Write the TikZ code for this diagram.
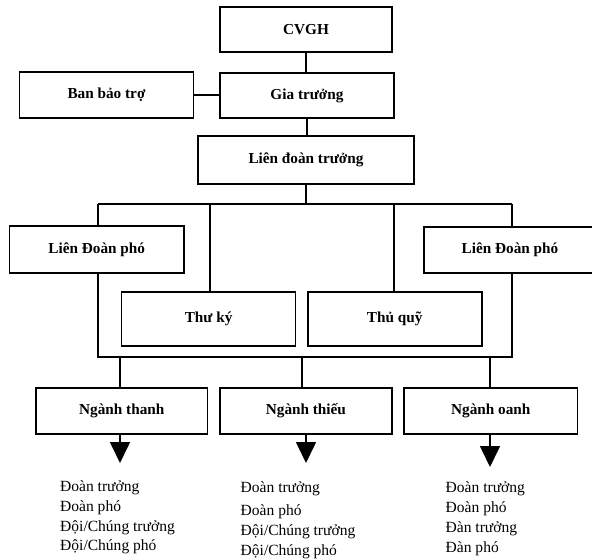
\documentclass[tikz,border=0pt]{standalone}
\usepackage{fontspec}
\setmainfont{Liberation Serif}
\usetikzlibrary{arrows.meta}
\tikzset{
  box/.style={draw, line width=1.6bp, fill=white, inner sep=0pt, font=\fontsize{15.3}{18}\selectfont\bfseries},
  link/.style={line width=1.6bp},
  downarrow/.style={line width=1.6bp, -{Triangle[length=21bp,width=20bp]}},
  item/.style={anchor=west, inner sep=0pt, text height=10bp, text depth=3bp, font=\fontsize{15.6}{18}\selectfont}
}
\begin{document}
\begin{tikzpicture}[x=1bp,y=-1bp]
\useasboundingbox (0,0) rectangle (592,559);
% bus coordinates
\coordinate (bTL) at (98,204);
\coordinate (bTR) at (512,204);
\coordinate (bBL) at (98,357);
\coordinate (bBR) at (512,357);
\coordinate (tk) at (210,204);
\coordinate (tq) at (394,204);
\coordinate (d1) at (120,357);
\coordinate (d2) at (302,357);
\coordinate (d3) at (490,357);
% frame lines behind the boxes
\draw[link] (bTL) -- (bTR);
\draw[link] (bTL) -- (bBL) -- (bBR) -- (bTR);
% boxes
\node[box, minimum width=172bp, minimum height=45bp] (cvgh) at (306,29.5) {CVGH};
\node[box, minimum width=174bp, minimum height=45bp] (gia) at (307,95.5) {Gia trưởng};
\node[box, minimum width=174bp, minimum height=46bp] (ban) at (106.5,95) {Ban bảo trợ};
\node[box, minimum width=216bp, minimum height=48bp] (ldt) at (306,160) {Liên đoàn trưởng};
\node[box, minimum width=174.6bp, minimum height=47bp] (ldpL) at (96.7,249.5) {Liên Đoàn phó};
\node[box, minimum width=172bp, minimum height=46bp] (ldpR) at (510,250) {Liên Đoàn phó};
\node[box, minimum width=174bp, minimum height=54bp] (thuky) at (208.6,319) {Thư ký};
\node[box, minimum width=174bp, minimum height=54bp] (thuquy) at (394.7,319) {Thủ quỹ};
\node[box, minimum width=171.6bp, minimum height=46bp] (thanh) at (121.8,411) {Ngành thanh};
\node[box, minimum width=172.3bp, minimum height=46bp] (thieu) at (305.9,411) {Ngành thiếu};
\node[box, minimum width=173.6bp, minimum height=46bp] (oanh) at (490.8,411) {Ngành oanh};
% connectors
\draw[link] (cvgh.south) -- (cvgh.south |- gia.north);
\draw[link] (ban.east) -- (ban.east -| gia.west);
\draw[link] (gia.south) -- (gia.south |- ldt.north);
\draw[link] (ldt.south) -- (ldt.south |- bTL);
\draw[link] (tk) -- (tk |- thuky.north);
\draw[link] (tq) -- (tq |- thuquy.north);
\draw[link] (d1) -- (d1 |- thanh.north);
\draw[link] (d2) -- (d2 |- thieu.north);
\draw[link] (d3) -- (d3 |- oanh.north);
% arrows
\coordinate (a1) at (120,434);
\coordinate (a2) at (306,434);
\coordinate (a3) at (490,434);
\coordinate (e1) at (120,463);
\coordinate (e2) at (306,463);
\coordinate (e3) at (490,467);
\draw[downarrow] (a1) -- (e1);
\draw[downarrow] (a2) -- (e2);
\draw[downarrow] (a3) -- (e3);
% lists
\node[item] (t1) at (60,488) {Đoàn trưởng};
\node[item] (t2) at (60,508) {Đoàn phó};
\node[item] (t3) at (60,528) {Đội/Chúng trưởng};
\node[item] (t4) at (60,547) {Đội/Chúng phó};
\node[item] (h1) at (240.5,489) {Đoàn trưởng};
\node[item] (h2) at (240.5,512) {Đoàn phó};
\node[item] (h3) at (240.5,532) {Đội/Chúng trưởng};
\node[item] (h4) at (240.5,552) {Đội/Chúng phó};
\node[item] (o1) at (445.5,489) {Đoàn trưởng};
\node[item] (o2) at (445.5,509) {Đoàn phó};
\node[item] (o3) at (445.5,529) {Đàn trưởng};
\node[item] (o4) at (445.5,549) {Đàn phó};
\end{tikzpicture}
\end{document}
